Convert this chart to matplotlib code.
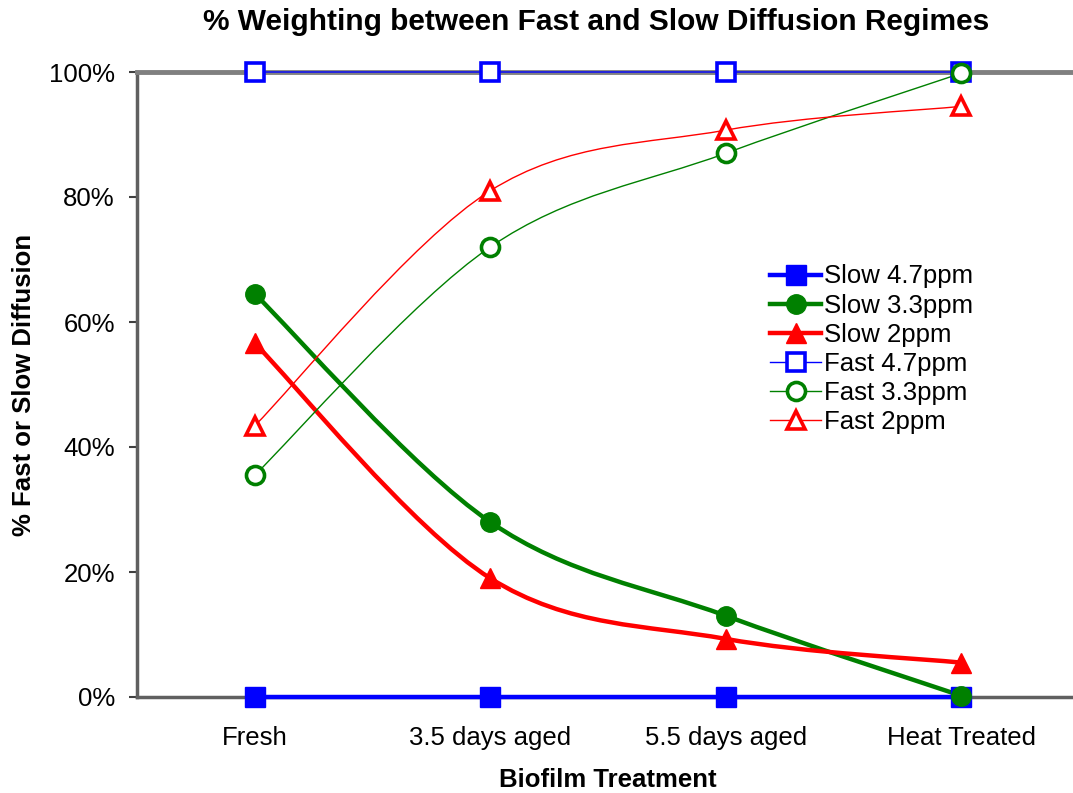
import matplotlib
matplotlib.use("Agg")
import matplotlib.pyplot as plt
from matplotlib.path import Path
from matplotlib.patches import PathPatch
from matplotlib.lines import Line2D

plt.rcParams['font.family'] = ['Liberation Sans', 'DejaVu Sans']

# categories and series (percent)
treatments = ['Fresh', '3.5 days aged', '5.5 days aged', 'Heat Treated']
slow_47 = [0, 0, 0, 0]
slow_33 = [64.5, 28.0, 13.0, 0.2]
slow_2 = [56.6, 19.0, 9.3, 5.5]
fast_47 = [100, 100, 100, 100]
fast_33 = [35.5, 72.0, 87.0, 99.8]
fast_2 = [43.4, 81.0, 90.7, 94.5]


def smooth_path(xs, ys):
    # Excel-style smoothed line: cubic Bezier segments through the points
    verts = [(xs[0], ys[0])]
    codes = [Path.MOVETO]
    n = len(xs)
    for i in range(n - 1):
        x0, y0 = (xs[i - 1], ys[i - 1]) if i > 0 else (xs[i], ys[i])
        x1, y1 = xs[i], ys[i]
        x2, y2 = xs[i + 1], ys[i + 1]
        x3, y3 = (xs[i + 2], ys[i + 2]) if i + 2 < n else (x2, y2)
        c1 = (x1 + (x2 - x0) / 6, y1 + (y2 - y0) / 6)
        c2 = (x2 - (x3 - x1) / 6, y2 - (y3 - y1) / 6)
        verts += [c1, c2, (x2, y2)]
        codes += [Path.CURVE4] * 3
    return Path(verts, codes)


fig = plt.figure(figsize=(10.73, 7.93), dpi=100)
ax = fig.add_axes([137 / 1073, 96 / 793, (1079 - 137) / 1073, (697 - 72) / 793])

x = list(range(len(treatments)))

series = [
    ('Slow 4.7ppm', slow_47, 'blue', 3.2, 's', True),
    ('Slow 3.3ppm', slow_33, 'green', 3.2, 'o', True),
    ('Slow 2ppm', slow_2, 'red', 3.2, '^', True),
    ('Fast 4.7ppm', fast_47, 'blue', 1.0, 's', False),
    ('Fast 3.3ppm', fast_33, 'green', 1.0, 'o', False),
    ('Fast 2ppm', fast_2, 'red', 1.0, '^', False),
]

handles = []
for name, vals, col, lw, mk, filled in series:
    patch = PathPatch(smooth_path(x, vals), facecolor='none', edgecolor=col,
                      lw=lw, zorder=3, clip_on=False)
    ax.add_patch(patch)
    if filled:
        ax.plot(x, vals, ls='none', marker=mk, ms=14, color=col, mec=col,
                zorder=4, clip_on=False)
        h = Line2D([], [], color=col, lw=lw, marker=mk, ms=14, mec=col)
    else:
        ax.plot(x, vals, ls='none', marker=mk, ms=13, mfc='white', mec=col,
                mew=2.6, zorder=4, clip_on=False)
        h = Line2D([], [], color=col, lw=lw, marker=mk, ms=13, mfc='white',
                   mec=col, mew=2.6)
    handles.append(h)

ax.set_xlim(-0.5, 3.5)
ax.set_ylim(0, 100)
ax.set_yticks([0, 20, 40, 60, 80, 100])
ax.set_yticklabels(['0%', '20%', '40%', '60%', '80%', '100%'], fontsize=18.5)
ax.set_xticks(x)
ax.set_xticklabels(treatments, fontsize=18.5)
ax.tick_params(axis='x', length=0, pad=21)
ax.tick_params(axis='y', length=6, width=1.5, color='#404040', pad=10)

ax.spines['right'].set_visible(False)
ax.spines['left'].set_color('#606060')
ax.spines['left'].set_linewidth(2.5)
ax.spines['bottom'].set_color('#606060')
ax.spines['bottom'].set_linewidth(2.5)
ax.spines['top'].set_color('#808080')
ax.spines['top'].set_linewidth(3.5)

ax.set_title('% Weighting between Fast and Slow Diffusion Regimes',
             fontsize=21.5, fontweight='bold', pad=30, x=0.487)
ax.set_xlabel('Biofilm Treatment', fontsize=18.5, fontweight='bold', labelpad=13)
ax.set_ylabel('% Fast or Slow Diffusion', fontsize=18.5, fontweight='bold', labelpad=9)

ax.legend(handles=handles, labels=[s[0] for s in series], loc='upper left',
          bbox_to_anchor=(0.672, 0.692), frameon=False, fontsize=18.5,
          handlelength=2.0, handletextpad=0.1, labelspacing=0.2,
          borderaxespad=0, borderpad=0)

fig.savefig('out.png', dpi=100)
